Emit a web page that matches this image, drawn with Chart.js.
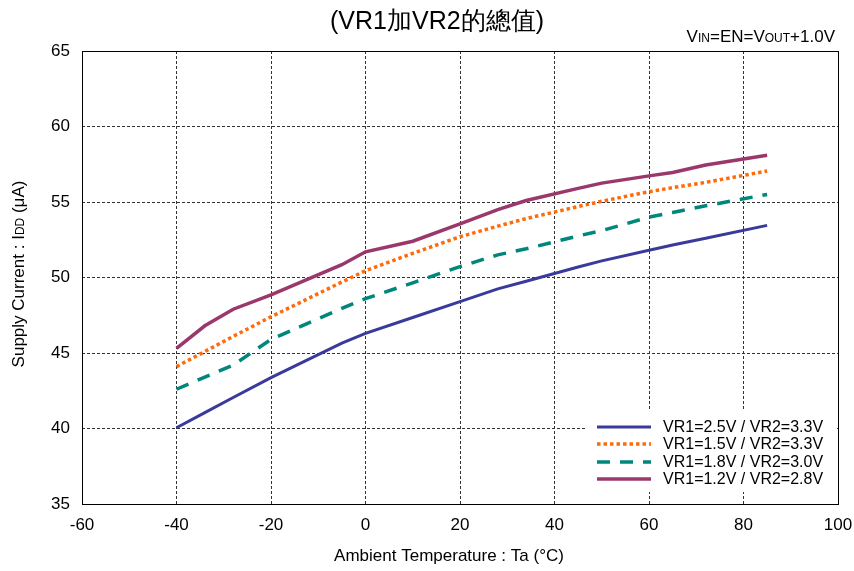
<!DOCTYPE html>
<html>
<head>
<meta charset="utf-8">
<script src="https://cdn.jsdelivr.net/npm/chart.js@4.4.0/dist/chart.umd.min.js"></script>
<style>
  html, body { margin: 0; padding: 0; background: #fff; }
  canvas { display: block; }
</style>
</head>
<body>
<canvas id="chart" width="854" height="571"></canvas>
<script>
// ambient temperature (°C) at which the curves were sampled
const temps = [-40, -34, -28, -20, -5, 0, 10, 20, 28, 34, 45, 50, 60, 65, 72, 85];

// supply current IDD (µA)
const idd25_33 = [40.05, 41.05, 42.05, 43.37, 45.65, 46.3, 47.35, 48.4, 49.25, 49.75, 50.7, 51.1, 51.8, 52.15, 52.6, 53.45];
const idd15_33 = [44.1, 45.1, 46.1, 47.4, 49.7, 50.45, 51.6, 52.7, 53.4, 53.9, 54.7, 55.05, 55.68, 55.95, 56.3, 57.05];
const idd18_30 = [42.6, 43.4, 44.2, 45.9, 47.95, 48.6, 49.65, 50.72, 51.5, 51.9, 52.75, 53.1, 54.0, 54.3, 54.75, 55.5];
const idd12_28 = [45.3, 46.8, 47.9, 48.85, 50.85, 51.7, 52.4, 53.55, 54.5, 55.1, 55.9, 56.25, 56.73, 56.95, 57.45, 58.1];

const seriesLabels = ['VR1=2.5V / VR2=3.3V', 'VR1=1.5V / VR2=3.3V', 'VR1=1.8V / VR2=3.0V', 'VR1=1.2V / VR2=2.8V'];
const xTicks = [-60, -40, -20, 0, 20, 40, 60, 80, 100];
const yTicks = [35, 40, 45, 50, 55, 60, 65];

const FONT = '"Liberation Sans", Arial, sans-serif';

const pts = vals => temps.map((t, i) => ({ x: t, y: vals[i] }));

// draw a run of text pieces with different sizes on one baseline
function richText(c, parts, x, y, align) {
  let total = 0;
  parts.forEach(p => { c.font = p[1] + 'px ' + FONT; total += c.measureText(p[0]).width; });
  let cx = align === 'right' ? x - total : align === 'center' ? x - total / 2 : x;
  c.textAlign = 'left';
  c.textBaseline = 'alphabetic';
  parts.forEach(p => {
    c.font = p[1] + 'px ' + FONT;
    c.fillText(p[0], cx, y);
    cx += c.measureText(p[0]).width;
  });
}

const decorations = {
  id: 'decorations',
  afterDatasetsDraw(chart) {
    const c = chart.ctx;
    const a = chart.chartArea;
    c.save();
    // legend box inside plot
    c.fillStyle = '#fff';
    c.fillRect(585, 410, 250, 82);
    const rows = [427, 444, 462, 479];
    chart.data.datasets.forEach((ds, i) => {
      c.beginPath();
      c.strokeStyle = ds.borderColor;
      c.lineWidth = ds.borderWidth;
      c.setLineDash(ds.borderDash || []);
      c.lineCap = 'butt';
      c.moveTo(597, rows[i]);
      c.lineTo(651, rows[i]);
      c.stroke();
      c.setLineDash([]);
      c.fillStyle = '#000';
      c.font = '16px ' + FONT;
      c.textAlign = 'left';
      c.textBaseline = 'middle';
      c.fillText(ds.label, 663, rows[i] + 1);
    });
    // frame
    c.strokeStyle = '#000';
    c.lineWidth = 1;
    c.strokeRect(Math.round(a.left) + 0.5, Math.round(a.top) + 0.5, Math.round(a.right - a.left), Math.round(a.bottom - a.top));
    // texts
    c.fillStyle = '#000';
    richText(c, [['(VR1加VR2的總值)', 25]], 437, 29, 'center');
    richText(c, [['V', 17], ['IN', 12], ['=EN=V', 17], ['OUT', 12], ['+1.0V', 17]], 835, 42, 'right');
    richText(c, [['Ambient Temperature : Ta (°C)', 17]], 449, 561, 'center');
    c.translate(24, 274);
    c.rotate(-Math.PI / 2);
    richText(c, [['Supply Current : I', 17], ['DD', 12], [' (μA)', 17]], 0, 0, 'center');
    c.restore();
  }
};

const grid = { color: '#333', lineWidth: 1, drawTicks: false };
const border = { display: false, dash: [3, 2] };

new Chart(document.getElementById('chart'), {
  type: 'line',
  data: {
    datasets: [
      { label: seriesLabels[0], data: pts(idd25_33), borderColor: '#3a3a9c', borderWidth: 3, pointRadius: 0, tension: 0 },
      { label: seriesLabels[1], data: pts(idd15_33), borderColor: '#ff6a0a', borderWidth: 3.5, borderDash: [3.5, 3], borderCapStyle: 'butt', pointRadius: 0, tension: 0 },
      { label: seriesLabels[2], data: pts(idd18_30), borderColor: '#00877c', borderWidth: 3.5, borderDash: [13, 10], pointRadius: 0, tension: 0 },
      { label: seriesLabels[3], data: pts(idd12_28), borderColor: '#9a386c', borderWidth: 3.5, pointRadius: 0, tension: 0 },
    ],
  },
  options: {
    responsive: false,
    animation: false,
    layout: { padding: { top: 51, right: 16, left: 0, bottom: 0 } },
    plugins: { legend: { display: false }, tooltip: { enabled: false } },
    scales: {
      x: {
        type: 'linear', min: -60, max: 100,
        afterBuildTicks: s => { s.ticks = xTicks.map(v => ({ value: v })); },
        afterFit: s => { s.height = 67; s.paddingLeft = 0; s.paddingRight = 0; },
        ticks: { color: '#000', font: { family: FONT, size: 17 }, padding: 11, maxRotation: 0 },
        grid: grid,
        border: border,
      },
      y: {
        min: 35, max: 65,
        afterBuildTicks: s => { s.ticks = yTicks.map(v => ({ value: v })); },
        afterFit: s => { s.width = 82; s.paddingTop = 0; s.paddingBottom = 0; },
        ticks: { color: '#000', font: { family: FONT, size: 17 }, padding: 12 },
        grid: grid,
        border: border,
      },
    },
  },
  plugins: [decorations],
});
</script>
</body>
</html>
